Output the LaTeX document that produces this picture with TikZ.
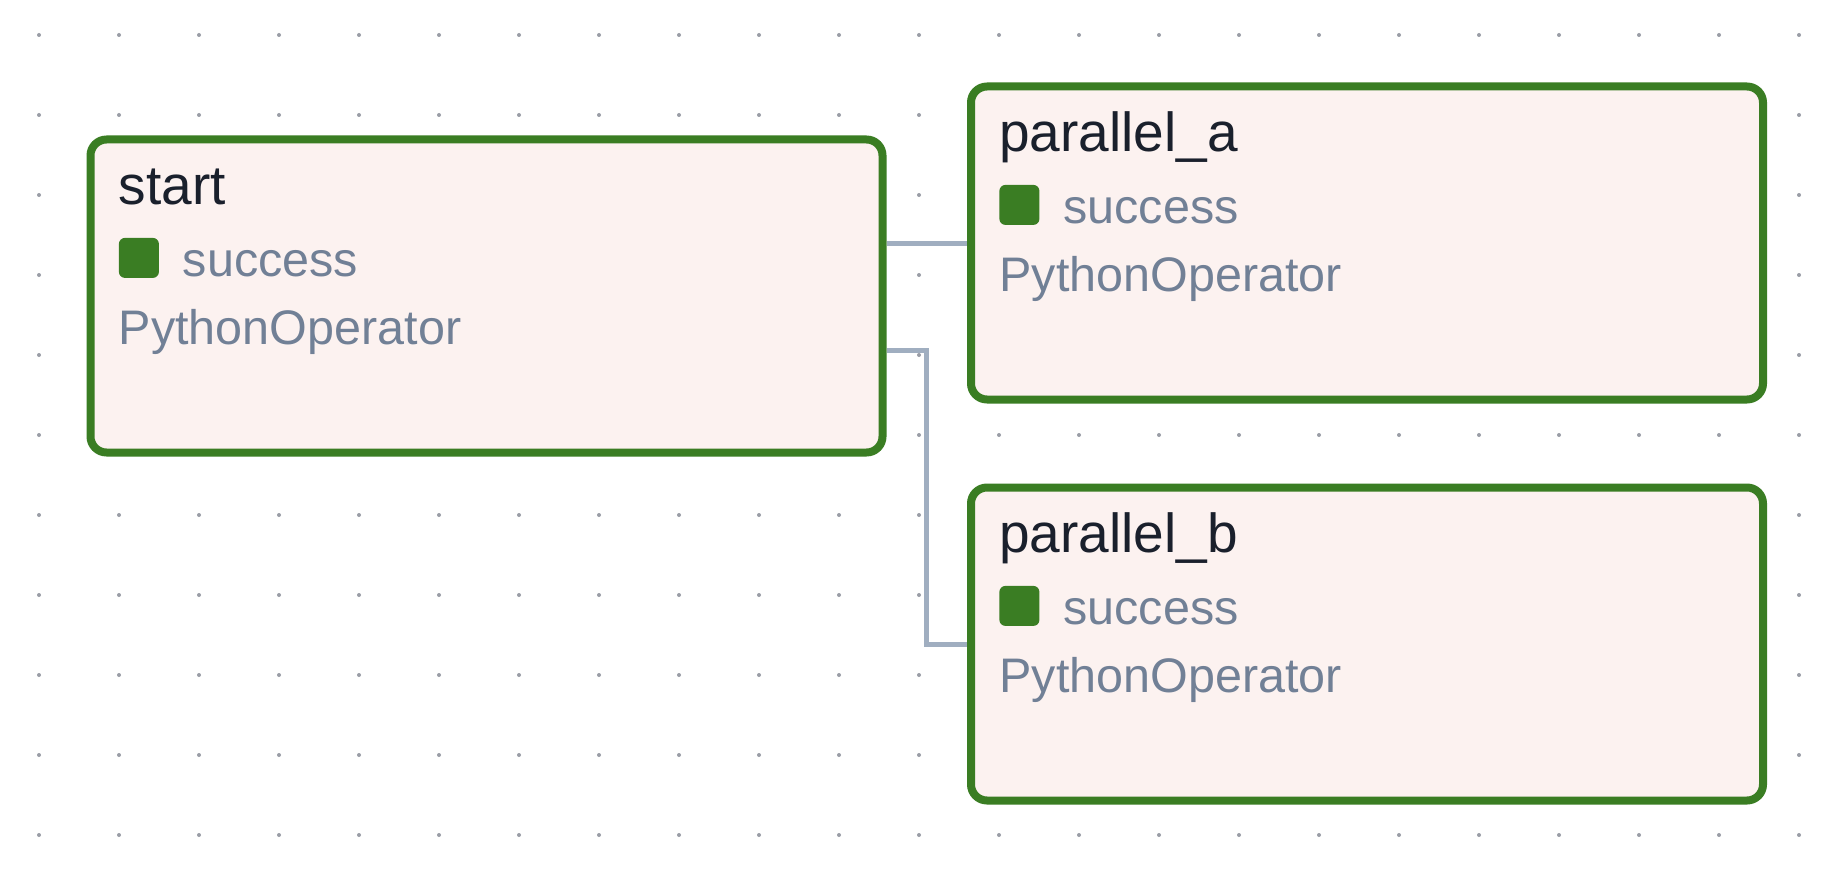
\documentclass[tikz,border=0pt]{standalone}
\usepackage{fontspec}
\setmainfont{Liberation Sans}
\usetikzlibrary{calc}
\definecolor{bordergreen}{HTML}{3A7D23}
\definecolor{boxfill}{HTML}{FCF2F0}
\definecolor{titlecol}{HTML}{1A202C}
\definecolor{subcol}{HTML}{718096}
\definecolor{edgecol}{HTML}{A0AEC0}
\definecolor{dotcol}{HTML}{9A9DA6}
\tikzset{
  taskbox/.style={draw=bordergreen, fill=boxfill, line width=4pt, rounded corners=8pt,
    minimum width=396pt, minimum height=156.5pt, inner sep=0pt},
  titletext/.style={anchor=base west, inner sep=0pt, text=titlecol,
    font=\fontsize{27.5pt}{33pt}\selectfont},
  subtext/.style={anchor=base west, inner sep=0pt, text=subcol,
    font=\fontsize{24.25pt}{29pt}\selectfont},
  statesq/.style={anchor=north west, fill=bordergreen, draw=none, inner sep=0pt,
    minimum size=20pt, rounded corners=3pt},
  edgeline/.style={draw=edgecol, line width=2.5pt},
  griddot/.style={fill=dotcol}
}
\newcommand\dagtask[4]{%
  \node[taskbox] (#1) at (#2,#3) {};
  \begin{scope}[shift={(#1.north west)}]
    \node[titletext] (#1-title) at (32,69) {#4};
    \node[statesq] (#1-sq) at (32,102) {};
    \node[subtext] (#1-state) at (96,141) {success};
    \node[subtext] (#1-op) at (32,209) {PythonOperator};
  \end{scope}
}
\begin{document}
\begin{tikzpicture}[x=0.5pt,y=-0.5pt]
  \fill[white] (0,0) rectangle (1832,872);
  \useasboundingbox (0,0) rectangle (1832,872);
  \foreach \i in {0,...,22}{
    \foreach \j in {0,...,10}{
      \fill[griddot] (39+80*\i,35+80*\j) circle (1pt);
    }
  }
  % invisible placeholders so the edges can be drawn beneath the boxes
  \path (486.5,296) coordinate (startc) (1367,243) coordinate (ac) (1367,644) coordinate (bc);
  \node[taskbox, draw=none, fill=none] (start0) at (startc) {};
  \node[taskbox, draw=none, fill=none] (a0) at (ac) {};
  \node[taskbox, draw=none, fill=none] (b0) at (bc) {};
  \coordinate (s2) at ($(start0.east)+(0,54)$);
  \draw[edgeline] (start0.east |- a0.west) -- (a0.west);
  \draw[edgeline] (s2) -| ($(s2)!0.5!(s2 -| b0.west)$) |- (b0.west);
  \dagtask{start}{486.5}{296}{start}
  \dagtask{pa}{1367}{243}{parallel\_a}
  \dagtask{pb}{1367}{644}{parallel\_b}
\end{tikzpicture}
\end{document}
